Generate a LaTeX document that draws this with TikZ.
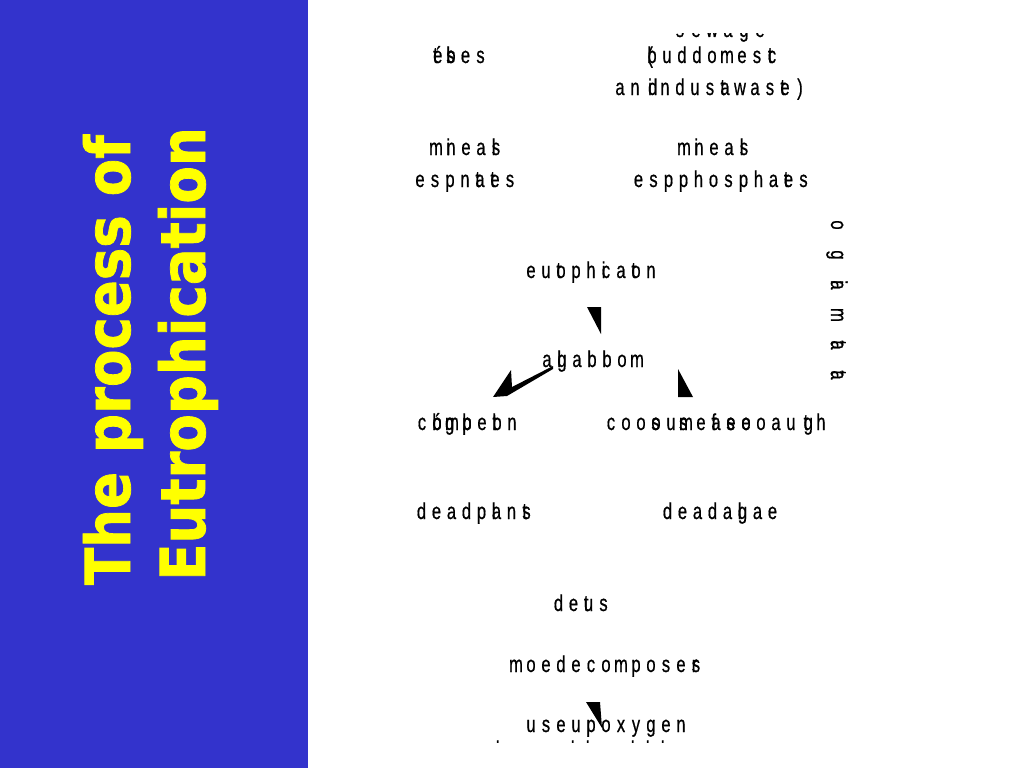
\documentclass[tikz,border=0pt]{standalone}
\usepackage{fontspec}
\setmainfont{Liberation Sans}
\newfontfamily\narrowfont[FakeStretch=0.72,FakeBold=0.6]{Liberation Sans}
\newfontfamily\titlefont[FakeStretch=0.88,FakeBold=1.2]{DejaVu Sans}
\definecolor{panelblue}{RGB}{51,51,204}
\definecolor{titleyellow}{RGB}{255,255,0}
\newlength\rspitch
\def\rsTend{}
\def\rsTendmark{\rsTend}
\def\rsTloop#1{\def\rsTarg{#1}\ifx\rsTarg\rsTendmark\else\makebox[\rspitch]{#1}\expandafter\rsTloop\fi}
\newcommand\spaced[2][15pt]{\setlength\rspitch{#1}\rsTloop#2\rsTend}
\tikzset{
  lbl/.style={inner sep=0pt, anchor=base, font=\narrowfont\fontsize{23}{23}\selectfont},
  titletext/.style={inner sep=0pt, anchor=base, text=titleyellow, font=\titlefont\bfseries\fontsize{62}{62}\selectfont},
  head/.style={fill=black}
}
\begin{document}
\begin{tikzpicture}[x=1pt,y=-1pt]
\useasboundingbox (0,0) rectangle (1024,768);
\fill[panelblue] (0,0) rectangle (308,768);
\node[titletext, rotate=90] (t1) at (130,360) {The process of};
\node[titletext, rotate=90] (t2) at (205,354) {Eutrophication};

\begin{scope}
\clip (600,34) rectangle (840,60);
\node[lbl] (sew) at (720,37) {\spaced[16pt]{s e w a g e}};
\end{scope}

\node[lbl] (fert) at (458,63) {\spaced{{\rlap{é}t} {\rlap{b}s} e s}};
\node[lbl] (dom) at (712,63) {\spaced{{\rlap{(}b} u d d o m e s {\rlap{t}c}}};
\node[lbl] (ind) at (710,95) {\spaced{a n {\rlap{d}i} n d u s {\rlap{t}a} w a s {\rlap{t}e} )}};
\node[lbl] (min1) at (466,155) {\spaced{m {\rlap{i}n} e a {\rlap{l}s}}};
\node[lbl] (nit) at (465,187) {\spaced{e s p n {\rlap{t}a} {\rlap{t}e} s}};
\node[lbl] (min2) at (714,155) {\spaced{m {\rlap{i}n} e a {\rlap{l}s}}};
\node[lbl] (phos) at (721,187) {\spaced{e s p p h o s p h a {\rlap{t}e} s}};
\node[lbl] (eut) at (591,278) {\spaced{e u {\rlap{t}o} p h {\rlap{i}c} a {\rlap{t}o} n}};
\node[lbl] (alg) at (592,367) {\spaced{a {\rlap{l}g} a b b o m}};
\node[lbl] (comp) at (467,430) {\spaced{c {\rlap{ó}b} {\rlap{g}m} {\rlap{p}b} e {\rlap{t}b} n}};
\node[lbl] (cons) at (716,430) {\spaced{c o o {\rlap{s}o} u {\rlap{s}m} e {\rlap{f}a} {\rlap{s}e} {\rlap{e}o} o a u {\rlap{g}t} h}};
\node[lbl, rotate=-90] (org) at (831,300) {\spaced[30pt]{o g {\rlap{i}a} m {\rlap{t}a} {\rlap{t}a}}};
\node[lbl] (dp) at (474,519) {\spaced{d e a d p {\rlap{l}a} n {\rlap{t}s}}};
\node[lbl] (da) at (720,519) {\spaced{d e a d a {\rlap{l}g} a e}};
\node[lbl] (det) at (581,611) {\spaced{d e {\rlap{t}u} s}};
\node[lbl] (dec) at (606,672) {\spaced{m o e d e c o m p o s e {\rlap{r}s}}};
\node[lbl] (oxy) at (606,732) {\spaced{u s e u p o x y g e n}};

\begin{scope}
\clip (460,736) rectangle (720,742.5);
\node[lbl] (nxt) at (577.5,757) {\spaced{d a a a a d d a a d d d}};
\end{scope}

\fill[head] (587,307) -- (601,307) -- (601,334) -- cycle;
\fill[head] (678,369) -- (678,397) -- (693,397) -- cycle;
\fill[head] (586,702) -- (600,702) -- (602,728) -- cycle;
\fill[head] (493,397) -- (511,370) -- (512,387) -- (553,366) -- (553,369) -- (507,396) -- cycle;
\end{tikzpicture}
\end{document}
